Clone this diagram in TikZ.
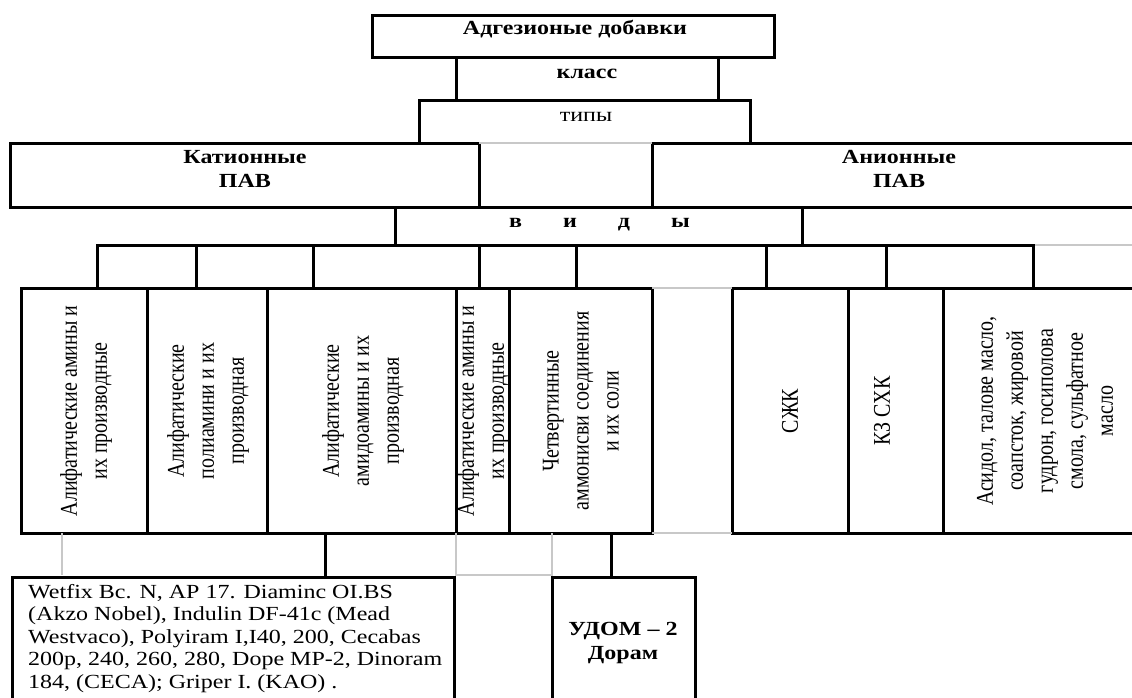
\documentclass[tikz,border=0pt]{standalone}
\usepackage{fontspec}
\usepackage{xcolor}
\setmainfont{Liberation Serif}
\newfontfamily\widefont[FakeStretch=1.2]{Liberation Serif}
\newfontfamily\narrowfont[FakeStretch=0.8333]{Liberation Serif}
\definecolor{cellgray}{RGB}{200, 200, 200}

\begin{document}
\begin{tikzpicture}[x=1pt, y=-1pt,
    cell/.style={line width=3pt, line cap=rect},
    faint/.style={cellgray, line width=1.2pt},
    htext/.style={font=\widefont\fontsize{20}{24}\selectfont, inner sep=0pt, align=center, anchor=base},
    hbold/.style={htext, font=\widefont\bfseries\fontsize{20}{24}\selectfont},
    vtext/.style={font=\narrowfont\fontsize{24}{30}\selectfont, inner sep=0pt, align=center, rotate=90}]
    \useasboundingbox (0,0) rectangle (1132,697);
    \clip (0,0) rectangle (1132,697);

    % Draw the upper cells
    \draw[cell] (372,15) rectangle (774,57);
    \draw[cell] (456,57) -- (456,100) (718,57) -- (718,100);
    \draw[cell] (419,143) -- (419,100) -- (750,100) -- (750,143);
    \draw[cell] (10,143) rectangle (479,207);
    \draw[cell] (652,143) rectangle (1140,207);
    \draw[cell] (479,207) -- (652,207);
    \draw[faint] (479,143) -- (652,143);

    % Draw the row that joins the kinds to the cells below
    \draw[cell] (395,207) -- (395,245) (802,207) -- (802,245);
    \draw[cell] (97,245) -- (1033,245);
    \draw[faint] (1033,245) -- (1140,245);
    \foreach \x in {97,196,313,479,576,766,886,1033}
        \draw[cell] (\x,245) -- (\x,288);

    % Draw the cells of the kinds
    \foreach \xa/\xb in {21/147,147/267,267/456,456/509,509/652,732/848,848/943,943/1140}
        \draw[cell] (\xa,288) rectangle (\xb,533);
    \draw[faint] (652,288) -- (732,288) (652,533) -- (732,533);

    % Draw the lower cells
    \draw[faint] (62,533) -- (62,575);
    \draw[faint] (456,533) -- (456,575) -- (552,575) -- (552,533);
    \draw[cell] (325,533) -- (325,577) (611,533) -- (611,577);
    \draw[cell] (12,577) rectangle (454,710);
    \draw[cell] (552,577) rectangle (695,710);

    % Headings (base is the last line)
    \node[hbold] (adh) at (575,34) {Адгезионые добавки};
    \node[hbold] (klass) at (587,78) {класс};
    \node[htext] (tipy) at (586,121) {типы};
    \node[hbold] (cation) at (245,187) {Катионные\\ПАВ};
    \node[hbold] (anion) at (899,187) {Анионные\\ПАВ};
    \node[hbold] (vidy) at (599.5,227) {в\hspace{41pt}и\hspace{41pt}д\hspace{41pt}ы};

    % Kinds, written upwards
    \node[vtext] (kind1) at (86,411) {Алифатические амины и\\ их производные};
    \node[vtext] (kind2) at (208,411) {Алифатические\\ полиамини и их\\ производная};
    \node[vtext] (kind3) at (363,411) {Алифатические\\ амидоамины и их\\ производная};
    \node[vtext] (kind4) at (483,411) {Алифатические амины и\\ их производные};
    \node[vtext] (kind5) at (581,411) {Четвертинные\\ аммонисви соединения\\ и их соли};
    \node[vtext] (kind6) at (790,411) {СЖК};
    \node[vtext] (kind7) at (882,411) {КЗ СХК};
    \node[vtext] (kind8) at (1045,411) {Асидол, талове масло,\\ соапсток, жировой\\ гудрон, госиполова\\ смола, сульфатное\\ масло};

    % Brands
    \node[htext, align=left, anchor=base west, font=\widefont\fontsize{20}{22.5}\selectfont] (brands) at (28,688)
        {Wetfix Bc. N, AP 17. Diaminc OI.BS\\ (Akzo Nobel), Indulin DF-41c (Mead\\ Westvaco), Polyiram I,I40, 200, Cecabas\\ 200p, 240, 260, 280, Dope MP-2, Dinoram\\ 184, (CECA); Griper I. (KAO) .};
    \node[hbold] (udom) at (623,659) {УДОМ – 2\\Дорам};
\end{tikzpicture}
\end{document}
